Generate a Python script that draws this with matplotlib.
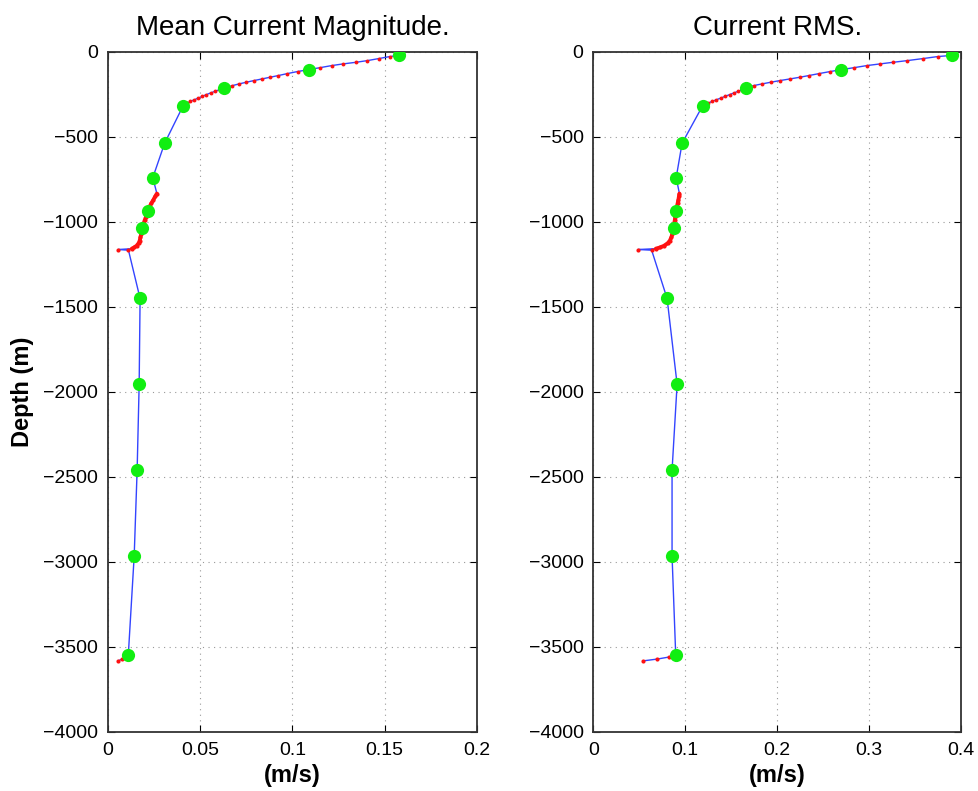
import numpy as np
import matplotlib
matplotlib.use("Agg")
import matplotlib.pyplot as plt

plt.rcParams['font.family'] = ['Liberation Sans', 'DejaVu Sans']

# ---- data ----
# green: current-meter depths (m) and values
green_depth = [-20, -104, -212, -315, -537, -739, -937, -1036, -1450, -1955, -2460, -2965, -3550]
green_mean = [0.1577, 0.1087, 0.0629, 0.0408, 0.0307, 0.0243, 0.0216, 0.0186, 0.0174, 0.0169, 0.0158, 0.0142, 0.0110]
green_rms = [0.3903, 0.2698, 0.1661, 0.1191, 0.0966, 0.0902, 0.0904, 0.0879, 0.0803, 0.0912, 0.0857, 0.0857, 0.0897]

# red upper profile (dots)
red_up_depth = [-27, -39, -51, -61, -70, -80, -92,
                -115, -127, -139, -149, -159, -168, -178, -188, -198,
                -221, -231, -241, -251, -261, -271, -281, -291, -301]
red_up_mean = [0.1527, 0.1467, 0.1405, 0.1342, 0.1276, 0.1213, 0.1151,
               0.1028, 0.0973, 0.0922, 0.0877, 0.0833, 0.0792, 0.0750, 0.0710, 0.0674,
               0.0605, 0.0582, 0.0556, 0.0533, 0.0511, 0.0490, 0.0468, 0.0446, 0.0428]
red_up_rms = [0.3747, 0.3584, 0.3413, 0.3257, 0.3123, 0.2977, 0.2840,
              0.2578, 0.2458, 0.2342, 0.2244, 0.2135, 0.2033, 0.1932, 0.1834, 0.1743,
              0.1625, 0.1578, 0.1530, 0.1482, 0.1435, 0.1388, 0.1340, 0.1292, 0.1248]

# red mid profile (dense, drawn thick)
red_mid_depth = [-833, -850, -870, -890, -910, -930, -950, -970, -990, -1010, -1030,
                 -1050, -1070, -1090, -1110, -1125, -1140, -1150, -1157, -1162, -1166]
red_mid_mean = [0.0265, 0.0256, 0.0246, 0.0235, 0.0226, 0.0218, 0.0213, 0.0206, 0.0199, 0.0193, 0.0188,
                0.0184, 0.0180, 0.0176, 0.0172, 0.0166, 0.0155, 0.0142, 0.0129, 0.0056, 0.0111]
red_mid_rms = [0.0937, 0.0932, 0.0926, 0.0918, 0.0910, 0.0903, 0.0898, 0.0893, 0.0887, 0.0880, 0.0873,
               0.0866, 0.0860, 0.0850, 0.0833, 0.0810, 0.0770, 0.0726, 0.0680, 0.0490, 0.0635]

# red bottom
red_bot_depth = [-3559, -3571, -3582]
red_bot_mean = [0.0095, 0.0078, 0.0053]
red_bot_rms = [0.0825, 0.0697, 0.0538]

titles = ["Mean Current Magnitude.", "Current RMS."]
xticks_list = [[0, 0.05, 0.1, 0.15, 0.2], [0, 0.1, 0.2, 0.3, 0.4]]
xtick_labels = [["0", "0.05", "0.1", "0.15", "0.2"], ["0", "0.1", "0.2", "0.3", "0.4"]]
yticks = [-4000, -3500, -3000, -2500, -2000, -1500, -1000, -500, 0]
ytick_labels = ["\u22124000", "\u22123500", "\u22123000", "\u22122500", "\u22122000",
                "\u22121500", "\u22121000", "\u2212500", "0"]

fig = plt.figure(figsize=(9.79, 7.91), dpi=100)
ax1 = fig.add_axes([0.1103, 0.0746, 0.3769, 0.8597])
ax2 = fig.add_axes([0.6060, 0.0746, 0.3756, 0.8597])

datasets = [
    (green_mean, red_up_mean, red_mid_mean, red_bot_mean),
    (green_rms, red_up_rms, red_mid_rms, red_bot_rms),
]

for i, (ax, (g, ru, rm, rb)) in enumerate(zip([ax1, ax2], datasets)):
    pts = list(zip(green_depth, g)) + list(zip(red_up_depth, ru)) + \
          list(zip(red_mid_depth, rm)) + list(zip(red_bot_depth, rb))
    pts.sort(key=lambda p: -p[0])
    d_all = [p[0] for p in pts]
    v_all = [p[1] for p in pts]
    ax.plot(v_all, d_all, color='#3344ff', lw=1.0, zorder=2)
    ax.plot(ru, red_up_depth, ls='none', marker='o', ms=2.8, color='#ff1111', mec='none', zorder=3)
    ax.plot(rm[:-2], red_mid_depth[:-2], color='#ff1111', lw=2.8, zorder=3, solid_capstyle='round')
    ax.plot(rm, red_mid_depth, ls='none', marker='o', ms=3.0, color='#ff1111', mec='none', zorder=3)
    ax.plot(rb, red_bot_depth, ls='none', marker='o', ms=3.0, color='#ff1111', mec='none', zorder=3)
    ax.plot(g, green_depth, ls='none', marker='o', ms=9.5, color='#11ee11', mec='none', zorder=4)

    ax.set_xlim(xticks_list[i][0], xticks_list[i][-1])
    ax.set_ylim(-4000, 0)
    ax.set_xticks(xticks_list[i])
    ax.set_xticklabels(xtick_labels[i])
    ax.set_yticks(yticks)
    ax.set_yticklabels(ytick_labels)
    ax.tick_params(direction='in', top=True, right=True, length=5, width=0.8, labelsize=14, pad=7)
    ax.grid(True, ls=(0, (1, 4)), color='#999999', lw=0.8)
    for s in ax.spines.values():
        s.set_linewidth(1.3)
        s.set_color('#333333')
    ax.set_title(titles[i], fontsize=20, pad=12)
    ax.set_xlabel("(m/s)", fontsize=17, fontweight='bold', labelpad=4)

ax1.set_ylabel("Depth (m)", fontsize=17, fontweight='bold', labelpad=7)

fig.savefig("out.png", dpi=100)
